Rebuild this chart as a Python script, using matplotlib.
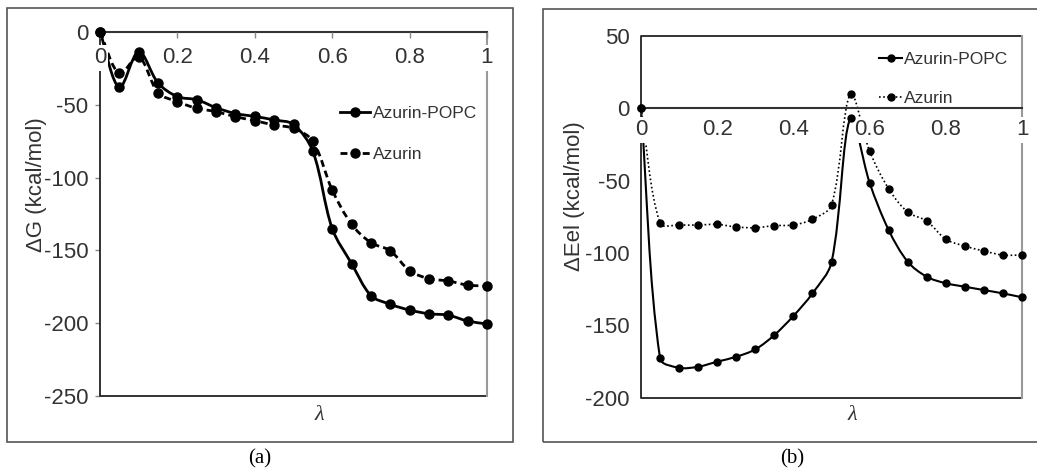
import numpy as np
import matplotlib
matplotlib.use("Agg")
import matplotlib.pyplot as plt
from matplotlib.path import Path
from matplotlib.patches import PathPatch, Rectangle
from matplotlib.lines import Line2D

plt.rcParams['font.family'] = ['Liberation Sans', 'DejaVu Sans']
plt.rcParams['axes.unicode_minus'] = False

# lambda values (21 windows)
lam = [0.0, 0.05, 0.1, 0.15, 0.2, 0.25, 0.3, 0.35, 0.4, 0.45, 0.5,
       0.55, 0.6, 0.65, 0.7, 0.75, 0.8, 0.85, 0.9, 0.95, 1.0]

# (a) free energy dG
dg_popc = [0, -38, -13.5, -35, -44.4, -46.5, -52, -56, -58, -60.4, -63.5,
           -82, -135, -159, -181, -187, -191, -193.5, -194.5, -198.5, -200.5]
dg_azurin = [0, -28.5, -17, -41.7, -47.9, -52.4, -54.7, -58.2, -60.9, -63.9, -66.2,
             -75, -108.5, -132, -144.7, -150.2, -164, -169.4, -171, -173.8, -174.5]

# (b) electrostatic energy dEel
eel_popc = [0, -172.8, -179.3, -178.6, -175.1, -171.7, -166.6, -156.7, -143.5, -127.9, -106.4,
            -6.5, -51.4, -84.1, -106, -116.4, -120.9, -123.3, -125.6, -127.9, -130.6]
eel_azurin = [0, -79.5, -80.6, -80.6, -80.2, -82, -82.5, -81.1, -80.6, -76.7, -66.8,
              9.9, -29.5, -55.6, -71.7, -77.9, -90.5, -95.2, -98.6, -101.4, -101.4]

xticks = [0, 0.2, 0.4, 0.6, 0.8, 1]
xticklabels = ['0', '0.2', '0.4', '0.6', '0.8', '1']


def smooth_path(x, y, sx, sy):
    # excel-like smoothed line: cubic bezier, tangents weighted by segment length
    pts = np.column_stack([np.asarray(x, float) * sx, np.asarray(y, float) * sy])
    n = len(pts)
    seg = np.hypot(*np.diff(pts, axis=0).T)
    cout, cin = [], []
    for i in range(n):
        p_prev = pts[i - 1] if i > 0 else pts[i]
        p_next = pts[i + 1] if i < n - 1 else pts[i]
        d = p_next - p_prev
        lp = seg[i - 1] if i > 0 else 0.0
        ln = seg[i] if i < n - 1 else 0.0
        tot = lp + ln if lp + ln > 0 else 1.0
        cout.append(pts[i] + d * ln / tot / 3)
        cin.append(pts[i] - d * lp / tot / 3)
    verts = [pts[0]]
    codes = [Path.MOVETO]
    for i in range(n - 1):
        verts += [cout[i], cin[i + 1], pts[i + 1]]
        codes += [Path.CURVE4] * 3
    verts = np.array(verts) / [sx, sy]
    return Path(verts, codes)


def draw_series(ax, x, y, ls, lw, ms, sx, sy):
    ax.add_patch(PathPatch(smooth_path(x, y, sx, sy), fill=False, edgecolor='black',
                           linestyle=ls, linewidth=lw, zorder=2, capstyle='butt'))
    ax.plot(x, y, 'o', color='black', markersize=ms, zorder=2.7, clip_on=False)


W, H = 1037, 469
fig = plt.figure(figsize=(W / 100, H / 100), dpi=100)

# outer panel boxes
fig.patches.append(Rectangle((7 / W, 1 - 442 / H), 506 / W, 434 / H, transform=fig.transFigure,
                             fill=False, edgecolor='#555555', linewidth=1.2))
fig.patches.append(Rectangle((543 / W, 1 - 442 / H), 0.6, 433 / H, transform=fig.transFigure,
                             fill=False, edgecolor='#555555', linewidth=1.2))

axa = fig.add_axes([100 / W, 1 - 396 / H, 387 / W, 364 / H])
axb = fig.add_axes([641 / W, 1 - 397.7 / H, 381 / W, 361.7 / H])

label_box = dict(facecolor='white', edgecolor='none', pad=1)
txt = '#333333'

for ax in (axa, axb):
    ax.set_xlim(0, 1)
    ax.set_xticks(xticks)
    ax.set_xticklabels(xticklabels)
    for s in ('top', 'left', 'right'):
        ax.spines[s].set_visible(False)
    ax.spines['bottom'].set_position(('data', 0))
    ax.spines['bottom'].set_color('#333333')
    ax.spines['bottom'].set_linewidth(1.5)
    ax.spines['bottom'].set_zorder(2.4)
    ax.xaxis.set_zorder(2.6)
    # plot-area frame: dark left/top/bottom, grey right
    ax.plot([1, 0, 0, 1], [1, 1, 0, 0], transform=ax.transAxes, color='#222222',
            linewidth=1.3, clip_on=False, zorder=2.3)
    ax.plot([1, 1], [0, 1], transform=ax.transAxes, color='#999999',
            linewidth=1.5, clip_on=False, zorder=2.3)
    for t in ax.get_xticklabels():
        t.set_bbox(label_box)
    ax.tick_params(axis='both', labelsize=16, colors=txt, labelcolor=txt)

# (a)
sxa, sya = 387.0, 364.0 / 250
draw_series(axa, lam, dg_popc, '-', 2.0, 6.5, sxa, sya)
draw_series(axa, lam, dg_azurin, (0, (2.5, 1.5)), 2.0, 6.5, sxa, sya)
axa.set_ylim(-250, 0)
axa.set_yticks([0, -50, -100, -150, -200, -250])
axa.tick_params(axis='x', length=4, width=1, color='#888888', pad=7)
axa.tick_params(axis='y', length=3.5, width=1, color='#888888', pad=5)
axa.set_ylabel('ΔG (kcal/mol)', fontsize=16, color=txt)
axa.yaxis.set_label_coords((47 - 100) / 387, 0.58)

handles_a = [Line2D([], [], color='black', ls='-', lw=2.0, marker='o', ms=6.5),
             Line2D([], [], color='black', ls=(0, (2.5, 1.5)), lw=2.0, marker='o', ms=6.5)]
axa.legend(handles_a, ['Azurin-POPC', 'Azurin'], loc='upper left',
           bbox_to_anchor=(340 / W, 1 - 106 / H), bbox_transform=fig.transFigure,
           frameon=False, borderpad=0, borderaxespad=0, handlelength=1.75,
           handletextpad=0.15, labelspacing=1.5, prop={'size': 12.5},
           labelcolor=txt)

# (b)
sxb, syb = 381.0, 361.7 / 250
draw_series(axb, lam, eel_popc, '-', 1.5, 5, sxb, syb)
draw_series(axb, lam, eel_azurin, (0, (1, 1.5)), 1.2, 5, sxb, syb)
axb.set_ylim(-200, 50)
axb.set_yticks([50, 0, -50, -100, -150, -200])
axb.tick_params(axis='x', length=0, pad=8)
axb.tick_params(axis='y', length=0, pad=8)
axb.set_ylabel('ΔEel (kcal/mol)', fontsize=16, color=txt)
axb.yaxis.set_label_coords((585 - 641) / 381, 0.556)

handles_b = [Line2D([], [], color='black', ls='-', lw=1.5, marker='o', ms=5),
             Line2D([], [], color='black', ls=(0, (1, 1.5)), lw=1.2, marker='o', ms=5)]
axb.legend(handles_b, ['Azurin-POPC', 'Azurin'], loc='upper left',
           bbox_to_anchor=(879 / W, 1 - 52 / H), bbox_transform=fig.transFigure,
           frameon=False, borderpad=0, borderaxespad=0, handlelength=1.35,
           handletextpad=0.1, labelspacing=1.38, prop={'size': 12.5},
           labelcolor=txt)

# lambda labels and captions
for xc in (319, 852):
    fig.text(xc / W, 1 - 415 / H, 'λ', family='Liberation Serif', style='italic',
             fontsize=16, color=txt, ha='center', va='center')
fig.text(260 / W, 1 - 459 / H, '(a)', family='Liberation Serif', fontsize=15,
         color='black', ha='center', va='center')
fig.text(792 / W, 1 - 459 / H, '(b)', family='Liberation Serif', fontsize=15,
         color='black', ha='center', va='center')

fig.savefig('out.png', dpi=100)
